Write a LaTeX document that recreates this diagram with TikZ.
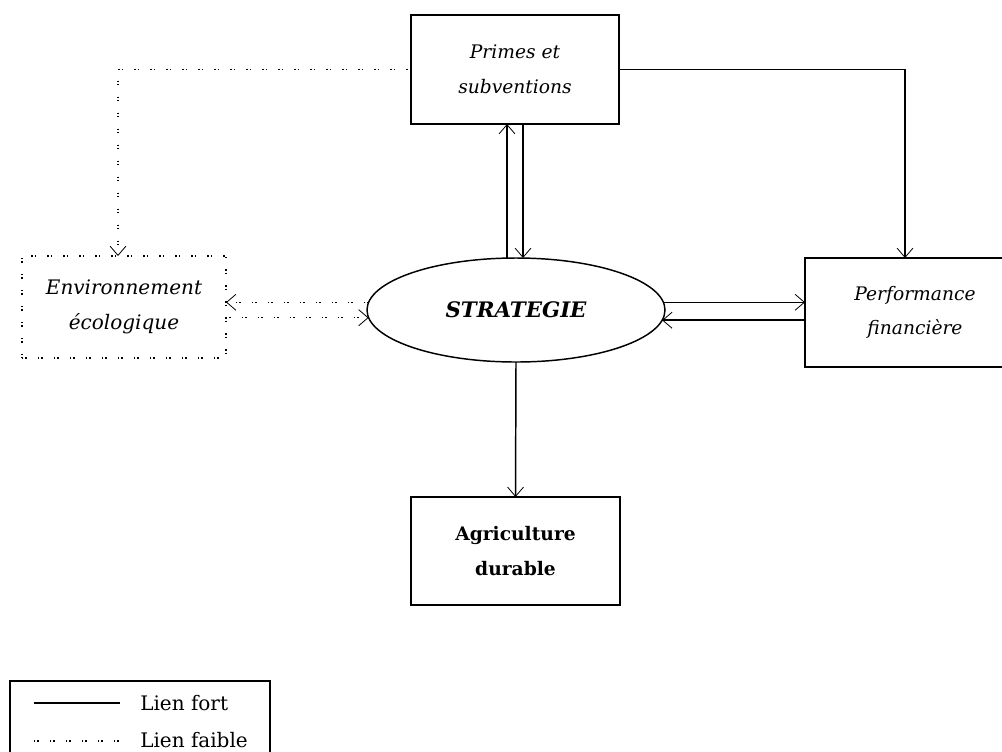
\documentclass[tikz,border=0pt]{standalone}
\usepackage{fontspec}
\setmainfont{DejaVu Serif}
\usetikzlibrary{shapes.geometric,arrows.meta}
\begin{document}
\begin{tikzpicture}[x=0.75pt,y=-0.75pt,
  box/.style={draw,line width=1.4pt,rectangle,inner sep=0pt,outer sep=0pt},
  weakbox/.style={draw,line width=0.9pt,rectangle,inner sep=0pt,outer sep=0pt,
    dash pattern=on 1.1pt off 1.4pt on 1.1pt off 8.4pt},
  itext/.style={font=\fontsize{14}{26}\selectfont\itshape,align=center},
  etext/.style={font=\fontsize{15}{26}\selectfont\itshape,align=center},
  btext/.style={font=\fontsize{14}{26}\selectfont\bfseries,align=center},
  arr/.style={line width=1.1pt,-{Straight Barb[length=7pt,width=12pt,line width=0.6pt]}},
  faible/.style={line width=0.9pt,dash pattern=on 1.1pt off 1.4pt on 1.1pt off 8.4pt},
  strong/.style={line width=1.1pt}]
\useasboundingbox (0,0) rectangle (1002,751);
\clip (0,0) rectangle (1002,751);

% nodes
\node[box,itext,minimum width=156pt,minimum height=81.75pt] (prime) at (515,69.5) {Primes et\\subventions};
\node[weakbox,etext,minimum width=153pt,minimum height=76.5pt] (env) at (124,307) {Environnement\\écologique};
\node[box,itext,minimum width=165pt,minimum height=81.75pt] (perf) at (915,312.5) {Performance\\financière};
\node[box,btext,minimum width=156.75pt,minimum height=81pt] (agri) at (515.5,551) {Agriculture\\durable};
\node[draw,ellipse,line width=1.1pt,inner sep=0pt,outer sep=0pt,minimum width=223.5pt,minimum height=78pt,
  font=\fontsize{16}{18}\selectfont\bfseries\itshape] (strat) at (516,310) {STRATEGIE};

% helper coordinates
\coordinate (c1) at (118,0);
\coordinate (c2) at (905,0);
\coordinate (u) at (507,0);
\coordinate (d) at (523,0);

% connectors
\draw[faible,arr] (prime.west) -| (c1 |- env.north);
\draw[arr] (prime.east) -| (c2 |- perf.north);
\draw[arr] (u |- strat.north) -- (u |- prime.south);
\draw[arr] (d |- prime.south) -- (d |- strat.north);
\draw[arr] (strat.3.9) -- (strat.3.9 -| perf.west);
\draw[arr] (perf.west |- strat.-4.7) -- (strat.-4.7);
\draw[faible,arr] (strat.177.3) -- (strat.177.3 -| env.east);
\draw[faible,arr] (env.east |- strat.183.5) -- (strat.183.5);
\draw[arr] (strat.south) -- (agri.north);

% legend
\node[box,minimum width=195pt,minimum height=89.25pt] (legend) at (140,740.5) {};
\coordinate (la) at (34,703);
\coordinate (lb) at (120,703);
\coordinate (lc) at (34,741);
\coordinate (ld) at (120,741);
\draw[strong] (la) -- (lb);
\draw[faible] (lc) -- (ld);
\node[anchor=west,inner sep=0pt,font=\fontsize{15}{18}\selectfont] (fort) at (140,703) {Lien fort};
\node[anchor=west,inner sep=0pt,font=\fontsize{15}{18}\selectfont] (faib) at (140,740) {Lien faible};
\end{tikzpicture}
\end{document}
